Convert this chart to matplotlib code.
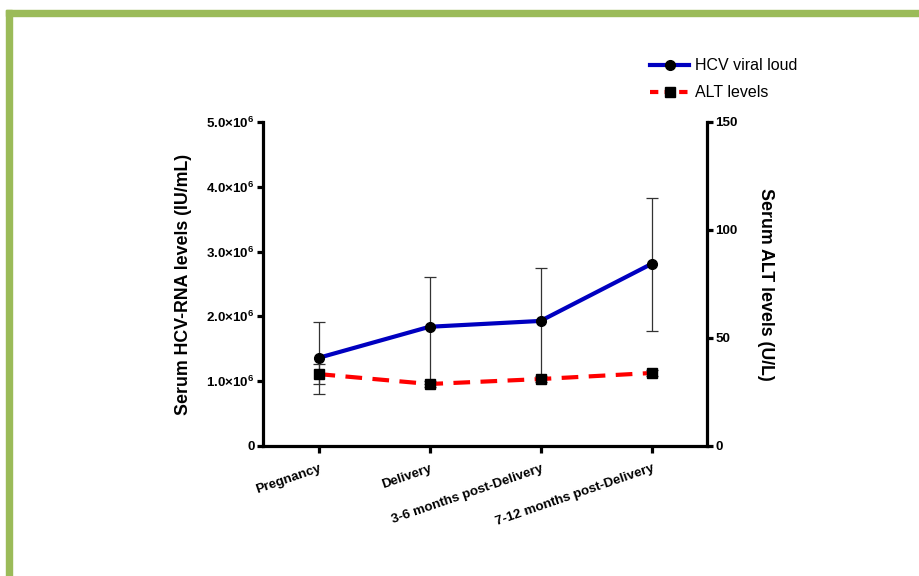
import matplotlib
matplotlib.use("Agg")
import matplotlib.pyplot as plt
from matplotlib.ticker import FuncFormatter
from matplotlib.lines import Line2D
from matplotlib.patches import Rectangle

plt.rcParams['font.family'] = ['Liberation Sans', 'DejaVu Sans']
plt.rcParams['mathtext.fontset'] = 'custom'
plt.rcParams['mathtext.rm'] = 'Liberation Sans'
plt.rcParams['mathtext.bf'] = 'Liberation Sans:bold'

# data
stages = ['Pregnancy', 'Delivery', '3-6 months post-Delivery', '7-12 months post-Delivery']
hcv = [1.36e6, 1.84e6, 1.93e6, 2.81e6]
hcv_err_low = [0.56e6, 0.88e6, 0.89e6, 1.03e6]
hcv_err_high = [0.55e6, 0.77e6, 0.82e6, 1.02e6]
alt = [33.3, 28.7, 31.0, 33.8]
alt_err = [4.6, 1.5, 1.2, 1.5]

fig = plt.figure(figsize=(9.19, 5.76), dpi=100)

# green frame round the slide
fig.patches.append(Rectangle((6 / 919, 0), 6 / 919, 1 - 10 / 576, transform=fig.transFigure,
                             color='#9bbb59', zorder=0))
fig.patches.append(Rectangle((6 / 919, 1 - 16 / 576), 1, 6 / 576, transform=fig.transFigure,
                             color='#9bbb59', zorder=0))

ax = fig.add_axes([263 / 919, 1 - 446 / 576, 444 / 919, 324 / 576])
ax2 = ax.twinx()

x = list(range(len(stages)))

ax.errorbar(x, hcv, yerr=[hcv_err_low, hcv_err_high], fmt='none', ecolor='#333333',
            elinewidth=0.9, capsize=4, capthick=0.9, zorder=2)
ax.plot(x, hcv, color='#0000c0', lw=3, marker='o', ms=7, mfc='black', mec='black', zorder=3)

ax2.errorbar(x, alt, yerr=alt_err, fmt='none', ecolor='#333333',
             elinewidth=0.9, capsize=4, capthick=0.9, zorder=2)
ax2.plot(x, alt, color='#ff0000', lw=3, ls=(0, (4, 2.5)), marker='s', ms=7,
         mfc='black', mec='black', zorder=3)

ax.set_xlim(-0.5, 3.5)
ax.set_ylim(0, 5e6)
ax2.set_ylim(0, 150)

ax.set_yticks([0, 1e6, 2e6, 3e6, 4e6, 5e6])
ax.yaxis.set_major_formatter(FuncFormatter(
    lambda v, p: '0' if v == 0 else r'$\mathbf{%.1f{\times}10^{6}}$' % (v / 1e6)))
ax2.set_yticks([0, 50, 100, 150])

ax.set_xticks(x)
ax.set_xticklabels(stages, rotation=19, ha='right', rotation_mode='anchor',
                   fontsize=9.8, fontweight='bold')

for a in (ax, ax2):
    a.spines['top'].set_visible(False)
    a.spines['left'].set_linewidth(2.3)
    a.spines['right'].set_linewidth(2.3)
    a.spines['bottom'].set_linewidth(2.3)
    a.tick_params(width=2.3, length=4, labelsize=9.6, pad=2)
ax.spines['right'].set_visible(False)
ax2.spines['left'].set_visible(False)
ax2.spines['bottom'].set_visible(False)
ax.tick_params(axis='x', length=5, pad=7)
for lab in ax.get_yticklabels() + ax2.get_yticklabels():
    lab.set_fontweight('bold')

ax.set_ylabel('Serum HCV-RNA levels (IU/mL)', fontsize=12.8, fontweight='bold', labelpad=10)
ax2.set_ylabel('Serum ALT levels (U/L)', fontsize=12.8, fontweight='bold', rotation=-90,
               labelpad=26)

handles = [
    Line2D([], [], color='#0000c0', lw=3, marker='o', ms=7, mfc='black', mec='black'),
    Line2D([], [], color='#ff0000', lw=3, ls=(0, (2, 1.5)), marker='s', ms=7,
           mfc='black', mec='black'),
]
fig.legend(handles, ['HCV viral loud', 'ALT levels'], loc='upper left',
           bbox_to_anchor=(636 / 919, 1 - 44 / 576), frameon=False, fontsize=11.5,
           handlelength=2.4, handletextpad=0.4, labelspacing=0.75)

fig.savefig('out.png', dpi=100)
